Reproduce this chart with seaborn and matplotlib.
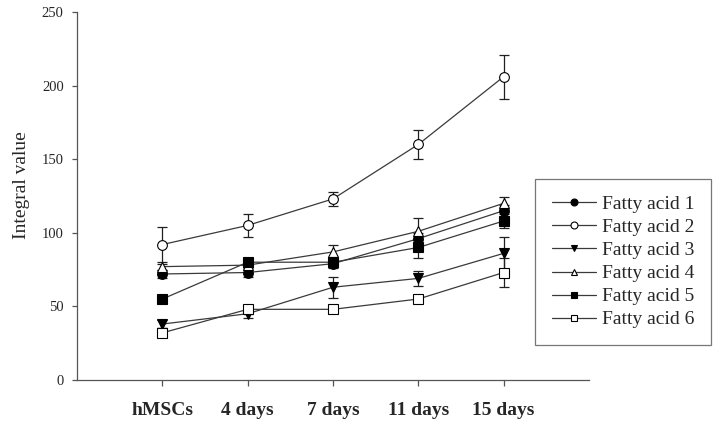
import numpy as np
import pandas as pd
import matplotlib
matplotlib.use("Agg")
import matplotlib.pyplot as plt
import seaborn as sns
from matplotlib.lines import Line2D

# data (mean and error bar half-length)
stages = ["hMSCs", "4 days", "7 days", "11 days", "15 days"]
series_names = ["Fatty acid 1", "Fatty acid 2", "Fatty acid 3",
                "Fatty acid 4", "Fatty acid 5", "Fatty acid 6"]

fa1 = [72, 73, 79, 96, 115]
fa2 = [92, 105, 123, 160, 206]
fa3 = [38, 45, 63, 69, 86]
fa4 = [77, 78, 87, 101, 120]
fa5 = [55, 80, 80, 90, 108]
fa6 = [32, 48, 48, 55, 73]

fa1_err = [3, 3, 3, 4, 4]
fa2_err = [12, 8, 5, 10, 15]
fa3_err = [3, 3, 7, 5, 11]
fa4_err = [2, 3, 5, 9, 4]
fa5_err = [2, 3, 3, 7, 5]
fa6_err = [3, 3, 2, 3, 10]

values = [fa1, fa2, fa3, fa4, fa5, fa6]
errors = [fa1_err, fa2_err, fa3_err, fa4_err, fa5_err, fa6_err]

rows = []
for name, vals, errs in zip(series_names, values, errors):
    for i, (v, e) in enumerate(zip(vals, errs)):
        rows.append({"series": name, "pos": i, "stage": stages[i], "value": v, "err": e})
df = pd.DataFrame(rows)

marker_map = {"Fatty acid 1": "o", "Fatty acid 2": "o", "Fatty acid 3": "v",
              "Fatty acid 4": "^", "Fatty acid 5": "s", "Fatty acid 6": "s"}
face_map = {"Fatty acid 1": "black", "Fatty acid 2": "white", "Fatty acid 3": "black",
            "Fatty acid 4": "white", "Fatty acid 5": "black", "Fatty acid 6": "white"}

sns.set_style("ticks")
plt.rcParams["font.family"] = ["Liberation Serif", "DejaVu Serif"]

fig = plt.figure(figsize=(7.2, 4.26), dpi=100)
ax = fig.add_axes([0.107, 0.108, 0.711, 0.864])

line_col = "#3a3a3a"
for name in series_names:
    sub = df[df["series"] == name]
    ax.errorbar(sub["pos"], sub["value"], yerr=sub["err"], fmt="none",
                ecolor="#202020", elinewidth=0.9, capsize=3.6, capthick=0.9, zorder=2)
    sns.lineplot(data=sub, x="pos", y="value", ax=ax, color=line_col, linewidth=0.9,
                 marker=marker_map[name], markersize=7, markerfacecolor=face_map[name],
                 markeredgecolor="black", markeredgewidth=0.8, zorder=3, legend=False)

ax.set_xlim(-1, 5)
ax.set_ylim(0, 250)
ax.set_xticks(range(len(stages)))
ax.set_xticklabels(stages, fontsize=14, fontweight="bold")
ax.set_yticks(np.arange(0, 251, 50))
ax.tick_params(axis="y", labelsize=10.5, length=3.6, width=0.9, pad=6, color="#555555")
ax.tick_params(axis="x", length=4.5, width=0.9, pad=11, color="#555555")
ax.set_xlabel("")
ax.set_ylabel("Integral value", fontsize=14)
ax.yaxis.set_label_coords(-0.092, 0.53)

sns.despine(ax=ax)
for sp in ["left", "bottom"]:
    ax.spines[sp].set_color("#555555")
    ax.spines[sp].set_linewidth(0.9)

handles = [Line2D([], [], color=line_col, linewidth=0.9, marker=marker_map[n],
                  markersize=5, markerfacecolor=face_map[n], markeredgecolor="black",
                  markeredgewidth=0.8) for n in series_names]
leg = fig.legend(handles, series_names, loc="upper left",
                 bbox_to_anchor=(535 / 720, 1 - 179 / 426), fontsize=14,
                 frameon=True, fancybox=False, edgecolor="#555555",
                 handlelength=2.3, handletextpad=0.3, labelspacing=0.28,
                 borderpad=0.85, borderaxespad=0)
leg.get_frame().set_linewidth(0.9)

fig.savefig("out.png", dpi=100)
